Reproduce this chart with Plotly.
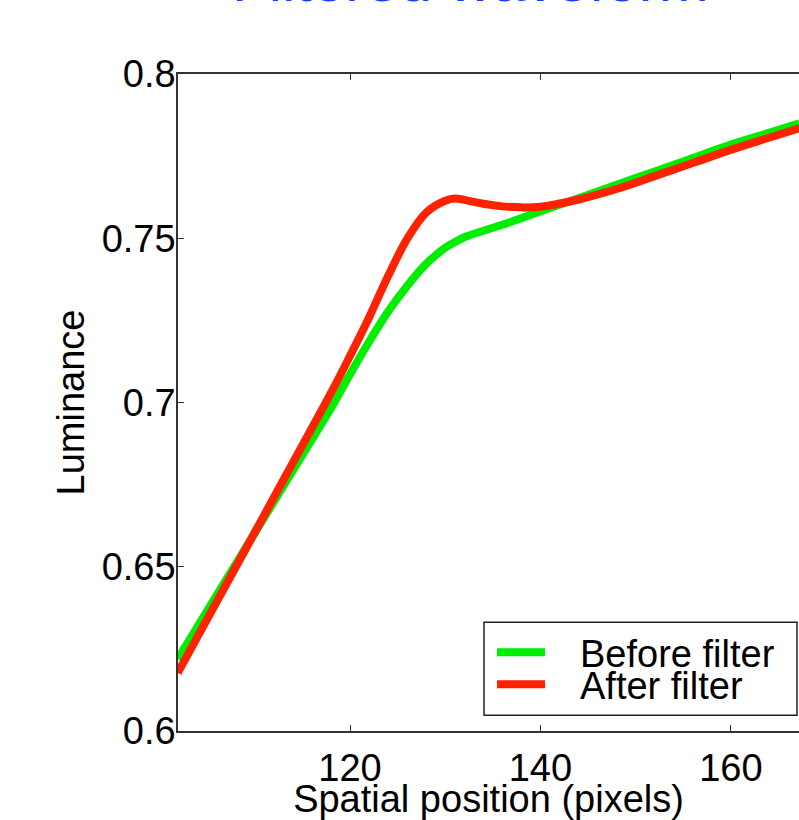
import plotly.graph_objects as go

# ---- data ----
x_pos = [101.9, 106, 110, 114, 118, 120, 122, 124, 126, 128, 130, 131, 132, 134, 136, 138,
         140, 144, 148, 152, 156, 160, 164, 167.2]
before_filter = [0.6219, 0.6414, 0.6603, 0.6793, 0.6983, 0.7086, 0.7185, 0.7277, 0.7355, 0.7422,
                 0.7471, 0.7488, 0.7503, 0.7523, 0.7541, 0.7561, 0.7582, 0.7622, 0.7663, 0.7703,
                 0.7744, 0.7785, 0.7821, 0.7850]
after_filter = [0.6177, 0.6394, 0.6605, 0.6817, 0.7029, 0.7142, 0.7259, 0.7385, 0.7498, 0.7578,
                0.7614, 0.7621, 0.7617, 0.7605, 0.7597, 0.7594, 0.7596, 0.7618, 0.7650, 0.7689,
                0.7729, 0.7769, 0.7806, 0.7835]
series_names = ["Before filter", "After filter"]
series_colors = ["#00ee00", "#ff2200"]
y_ticks = [0.6, 0.65, 0.7, 0.75, 0.8]
y_tick_text = ["0.6", "0.65", "0.7", "0.75", "0.8"]
x_ticks = [120, 140, 160]
x_tick_text = ["120", "140", "160"]
title_text = "Filtered waveform"
x_title = "Spatial position (pixels)"
y_title = "Luminance"

FONT = "Liberation Sans, Arial, sans-serif"
FS = 38

fig = go.Figure()
for ys, name, col in zip([before_filter, after_filter], series_names, series_colors):
    fig.add_trace(go.Scatter(x=x_pos, y=ys, mode="lines", name=name,
                             line=dict(color=col, width=8, shape="spline", smoothing=1.0),
                             showlegend=False))

axis_common = dict(showline=True, linecolor="#333333", linewidth=1.5, ticks="inside",
                   ticklen=6, tickwidth=1, tickcolor="#333333", showgrid=False, zeroline=False,
                   tickfont=dict(family=FONT, size=FS, color="black"))

fig.update_xaxes(range=[101.93, 167.16], tickvals=x_ticks, ticktext=x_tick_text,
                 mirror="ticks", ticklabelstandoff=3,
                 title=dict(text=x_title, font=dict(family=FONT, size=FS, color="black"), standoff=0),
                 **axis_common)
fig.update_yaxes(range=[0.6, 0.8], tickvals=y_ticks, ticktext=y_tick_text,
                 mirror=False, ticklabelstandoff=-7,
                 title=dict(text=y_title, font=dict(family=FONT, size=FS, color="black"), standoff=5),
                 **axis_common)

# legend (box, samples, labels)
L, R, T, B = 178, 799, 74, 730.7
def px(xp):
    return (xp - L) / (R - L)
def py(yp):
    return (B - yp) / (B - T)

shapes = [dict(type="rect", xref="paper", yref="paper", x0=px(484), x1=px(797), y0=py(715), y1=py(622),
               line=dict(color="#222222", width=1.5), fillcolor="white", layer="above")]
legend_y = [652, 684]
for name, col, ly in zip(series_names, series_colors, legend_y):
    shapes.append(dict(type="line", xref="paper", yref="paper", x0=px(497), x1=px(545), y0=py(ly), y1=py(ly),
                       line=dict(color=col, width=8), layer="above"))
annotations = []
for name, ly in zip(series_names, legend_y):
    annotations.append(dict(text=name, xref="paper", yref="paper", x=px(578), y=py(ly + 2),
                            xanchor="left", yanchor="middle", showarrow=False,
                            font=dict(family=FONT, size=FS, color="black")))
annotations.append(dict(text=title_text, xref="paper", yref="paper", x=px(470), y=1 + (74 - 16.5) / (B - T),
                        xanchor="center", yanchor="bottom", showarrow=False,
                        font=dict(family=FONT, size=60, color="#1a3dff")))

fig.update_layout(width=799, height=820, margin=dict(l=178, r=0, t=74, b=89, autoexpand=False),
                  paper_bgcolor="white", plot_bgcolor="white",
                  shapes=shapes, annotations=annotations)

fig.write_html("out.html", config={"displayModeBar": False},
               post_script="document.body.style.margin='0';document.body.style.overflow='hidden';")
